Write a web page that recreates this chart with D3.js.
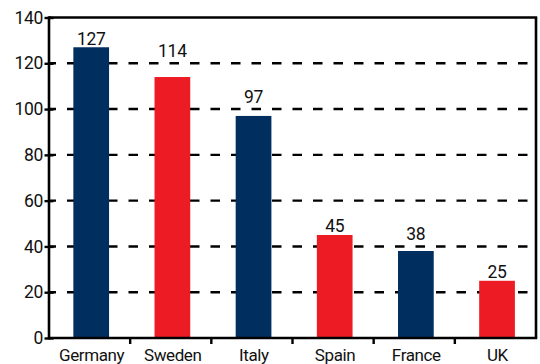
<!DOCTYPE html>
<html>
<head>
<meta charset="utf-8">
<script src="https://cdn.jsdelivr.net/npm/d3@7"></script>
<style>
  body { margin: 0; background: #fff; }
  text { font-family: Roboto, "Liberation Sans", sans-serif; fill: #111; }
</style>
</head>
<body>
<svg id="chart"></svg>
<script>
// data
var countries = ["Germany", "Sweden", "Italy", "Spain", "France", "UK"];
var values = [127, 114, 97, 45, 38, 25];
var barColors = ["#002f5f", "#ed1c24", "#002f5f", "#ed1c24", "#002f5f", "#ed1c24"];
var yTicks = [0, 20, 40, 60, 80, 100, 120, 140];

var W = 540, H = 364;
var margin = {top: 17.5, right: 4, bottom: 26, left: 49};
var width = W - margin.left - margin.right,
    height = H - margin.top - margin.bottom;

var svg = d3.select("#chart").attr("width", W).attr("height", H);
var g = svg.append("g").attr("transform", "translate(" + margin.left + "," + margin.top + ")");

var xb = d3.scaleBand().domain(countries).range([0, width]);
var y = d3.scaleLinear().domain([0, 140]).range([height, 0]);
var barW = xb.bandwidth() * 0.44, barOff = xb.bandwidth() * 0.3;

var gridVals = yTicks.filter(function(d) { return d > 0 && d < 140; });

// dashed gridlines
g.selectAll("line.grid")
  .data(gridVals)
  .enter().append("line")
  .attr("class", "grid")
  .attr("x1", 0).attr("x2", width)
  .attr("y1", function(d) { return y(d); })
  .attr("y2", function(d) { return y(d); })
  .attr("stroke", "#000")
  .attr("stroke-width", 2.4)
  .attr("stroke-dasharray", "9.5,11")
  .attr("stroke-dashoffset", 2.5);

// bars
g.selectAll("rect.bar")
  .data(values)
  .enter().append("rect")
  .attr("class", "bar")
  .attr("x", function(d, i) { return xb(countries[i]) + barOff; })
  .attr("width", barW)
  .attr("y", function(d) { return y(d); })
  .attr("height", function(d) { return height - y(d); })
  .attr("fill", function(d, i) { return barColors[i]; });

// value labels, lifted above a gridline when they would sit on it
function labelY(v) {
  var base = y(v) - 2.5;
  gridVals.forEach(function(t) {
    var gy = y(t);
    if (gy > base - 14 && gy < base + 2) base = Math.min(base, gy - 6);
  });
  return base;
}
g.selectAll("text.val")
  .data(values)
  .enter().append("text")
  .attr("class", "val")
  .attr("x", function(d, i) { return xb(countries[i]) + barOff + barW / 2; })
  .attr("y", labelY)
  .attr("text-anchor", "middle")
  .attr("font-size", 17.5)
  .attr("letter-spacing", -0.3)
  .text(function(d) { return d; });

// frame: top and right
g.append("line").attr("x1", 0).attr("x2", width + 1.2).attr("y1", 0).attr("y2", 0)
  .attr("stroke", "#000").attr("stroke-width", 2.6);
g.append("line").attr("x1", width).attr("x2", width).attr("y1", 0).attr("y2", height)
  .attr("stroke", "#000").attr("stroke-width", 2.6);

// y axis
var yAxis = g.append("g")
  .call(d3.axisLeft(y).tickValues(yTicks).tickSize(4).tickPadding(2));
yAxis.select(".domain").attr("stroke-width", 2.6).attr("d", "M0," + (height + 1.2) + "V-1.2");
yAxis.selectAll(".tick line").attr("x1", 4.5).attr("x2", -4.5).attr("stroke-width", 2.4);
yAxis.selectAll(".tick text").attr("font-size", 17.5).attr("letter-spacing", -0.3)
  .attr("font-family", "Roboto, sans-serif").attr("fill", "#111");

// x axis with ticks between categories
var xAxis = g.append("g").attr("transform", "translate(0," + height + ")");
xAxis.append("line").attr("x1", -1.2).attr("x2", width + 1.2)
  .attr("stroke", "#000").attr("stroke-width", 2.6);
xAxis.selectAll("line.tk")
  .data(countries.slice(1))
  .enter().append("line")
  .attr("class", "tk")
  .attr("x1", function(d) { return xb(d); })
  .attr("x2", function(d) { return xb(d); })
  .attr("y1", 0).attr("y2", 6)
  .attr("stroke", "#000").attr("stroke-width", 2.4);
xAxis.selectAll("text.cat")
  .data(countries)
  .enter().append("text")
  .attr("class", "cat")
  .attr("x", function(d) { return xb(d) + xb.bandwidth() / 2 + 2; })
  .attr("y", 23)
  .attr("text-anchor", "middle")
  .attr("font-size", 17)
  .attr("letter-spacing", -0.4)
  .text(function(d) { return d; });
</script>
</body>
</html>
